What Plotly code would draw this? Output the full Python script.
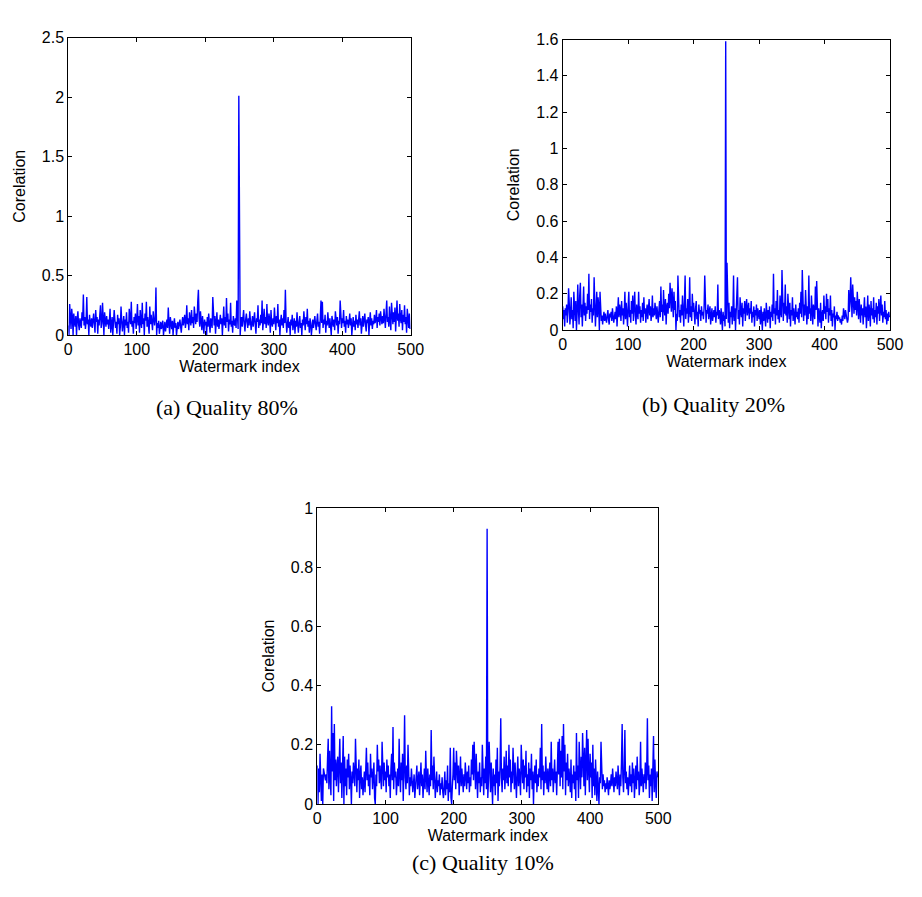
import plotly.graph_objects as go

# ---------------- data ----------------
corr_q80 = [
    0.08, 0.00, 0.26, 0.12, 0.05, 0.22, 0.15, 0.00, 0.18, 0.11, 0.07, 0.16, 0.00, 0.13, 0.20, 0.09, 0.04, 0.14, 0.10, 0.06,
    0.19, 0.12, 0.34, 0.08, 0.15, 0.05, 0.11, 0.32, 0.09, 0.13, 0.00, 0.17, 0.10, 0.07, 0.14, 0.06, 0.12, 0.18, 0.09, 0.02,
    0.21, 0.11, 0.15, 0.01, 0.13, 0.08, 0.17, 0.25, 0.06, 0.10, 0.27, 0.14, 0.00, 0.19, 0.11, 0.07, 0.16, 0.09, 0.13, 0.05,
    0.12, 0.22, 0.02, 0.10, 0.15, 0.00, 0.08, 0.21, 0.13, 0.06, 0.11, 0.01, 0.17, 0.09, 0.14, 0.00, 0.07, 0.24, 0.12, 0.03,
    0.10, 0.16, 0.00, 0.13, 0.08, 0.19, 0.06, 0.11, 0.02, 0.22, 0.14, 0.09, 0.28, 0.07, 0.12, 0.01, 0.15, 0.10, 0.18, 0.05,
    0.13, 0.26, 0.08, 0.16, 0.02, 0.21, 0.11, 0.06, 0.27, 0.09, 0.14, 0.00, 0.18, 0.12, 0.28, 0.07, 0.15, 0.10, 0.01, 0.24,
    0.09, 0.17, 0.12, 0.04, 0.20, 0.11, 0.08, 0.14, 0.40, 0.00, 0.10, 0.06, 0.12, 0.01, 0.09, 0.11, 0.05, 0.08, 0.12, 0.00,
    0.07, 0.11, 0.03, 0.09, 0.13, 0.06, 0.23, 0.10, 0.01, 0.15, 0.08, 0.05, 0.12, 0.00, 0.09, 0.14, 0.06, 0.10, 0.00, 0.08,
    0.11, 0.05, 0.09, 0.13, 0.07, 0.02, 0.10, 0.15, 0.08, 0.12, 0.17, 0.06, 0.11, 0.25, 0.09, 0.14, 0.04, 0.19, 0.12, 0.08,
    0.21, 0.10, 0.15, 0.06, 0.24, 0.13, 0.09, 0.18, 0.11, 0.28, 0.38, 0.14, 0.07, 0.20, 0.12, 0.04, 0.16, 0.09, 0.01, 0.13,
    0.08, 0.11, 0.00, 0.15, 0.07, 0.18, 0.10, 0.02, 0.14, 0.09, 0.06, 0.32, 0.12, 0.08, 0.16, 0.01, 0.11, 0.19, 0.07, 0.13,
    0.05, 0.10, 0.17, 0.09, 0.14, 0.00, 0.12, 0.24, 0.08, 0.15, 0.06, 0.31, 0.11, 0.18, 0.03, 0.13, 0.09, 0.27, 0.07, 0.12,
    0.02, 0.16, 0.10, 0.08, 0.14, 0.06, 0.29, 0.11, 0.05, 2.01, 0.02, 0.00, 0.10, 0.15, 0.07, 0.12, 0.21, 0.09, 0.03, 0.13,
    0.18, 0.11, 0.06, 0.14, 0.08, 0.20, 0.13, 0.04, 0.10, 0.16, 0.07, 0.12, 0.19, 0.09, 0.01, 0.14, 0.11, 0.25, 0.06, 0.13,
    0.08, 0.17, 0.10, 0.29, 0.04, 0.12, 0.22, 0.09, 0.15, 0.06, 0.26, 0.11, 0.08, 0.18, 0.13, 0.02, 0.21, 0.10, 0.07, 0.14,
    0.09, 0.23, 0.12, 0.04, 0.16, 0.10, 0.26, 0.07, 0.13, 0.00, 0.11, 0.17, 0.08, 0.14, 0.06, 0.21, 0.10, 0.38, 0.12, 0.02,
    0.09, 0.15, 0.06, 0.11, 0.00, 0.13, 0.08, 0.17, 0.04, 0.10, 0.14, 0.01, 0.12, 0.07, 0.19, 0.09, 0.02, 0.11, 0.16, 0.06,
    0.10, 0.00, 0.13, 0.08, 0.20, 0.11, 0.04, 0.15, 0.09, 0.22, 0.07, 0.12, 0.02, 0.14, 0.10, 0.00, 0.08, 0.13, 0.06, 0.11,
    0.16, 0.09, 0.04, 0.12, 0.18, 0.07, 0.11, 0.01, 0.14, 0.29, 0.10, 0.28, 0.06, 0.13, 0.09, 0.17, 0.02, 0.12, 0.08, 0.19,
    0.11, 0.06, 0.14, 0.09, 0.00, 0.16, 0.10, 0.07, 0.13, 0.04, 0.20, 0.11, 0.08, 0.15, 0.01, 0.12, 0.09, 0.29, 0.18, 0.06,
    0.14, 0.10, 0.21, 0.07, 0.12, 0.02, 0.16, 0.09, 0.13, 0.06, 0.11, 0.18, 0.08, 0.14, 0.00, 0.10, 0.15, 0.07, 0.12, 0.04,
    0.17, 0.09, 0.13, 0.06, 0.11, 0.20, 0.08, 0.14, 0.01, 0.10, 0.16, 0.07, 0.12, 0.18, 0.09, 0.03, 0.13, 0.10, 0.15, 0.00,
    0.11, 0.19, 0.08, 0.14, 0.05, 0.12, 0.09, 0.17, 0.10, 0.13, 0.21, 0.06, 0.15, 0.11, 0.18, 0.08, 0.20, 0.12, 0.09, 0.16,
    0.10, 0.22, 0.13, 0.06, 0.18, 0.29, 0.11, 0.15, 0.07, 0.24, 0.12, 0.04, 0.27, 0.14, 0.09, 0.19, 0.11, 0.23, 0.03, 0.16,
    0.29, 0.12, 0.18, 0.07, 0.26, 0.14, 0.10, 0.21, 0.04, 0.17, 0.11, 0.25, 0.09, 0.15, 0.02, 0.22, 0.12, 0.06, 0.18, 0.05,
]

corr_q20 = [
    0.13, 0.06, 0.11, 0.02, 0.12, 0.08, 0.14, 0.04, 0.10, 0.23, 0.15, 0.03, 0.09, 0.18, 0.06, 0.11, 0.01, 0.21, 0.13, 0.05,
    0.16, 0.00, 0.09, 0.25, 0.12, 0.03, 0.19, 0.26, 0.07, 0.14, 0.02, 0.11, 0.24, 0.08, 0.15, 0.05, 0.13, 0.09, 0.20, 0.11,
    0.31, 0.06, 0.14, 0.10, 0.17, 0.04, 0.12, 0.08, 0.29, 0.15, 0.02, 0.11, 0.21, 0.07, 0.18, 0.13, 0.00, 0.21, 0.09, 0.05,
    0.08, 0.03, 0.07, 0.10, 0.05, 0.09, 0.06, 0.04, 0.08, 0.11, 0.06, 0.03, 0.09, 0.07, 0.10, 0.05, 0.12, 0.08, 0.04, 0.07,
    0.10, 0.06, 0.13, 0.02, 0.09, 0.18, 0.07, 0.14, 0.11, 0.05, 0.16, 0.08, 0.12, 0.03, 0.10, 0.21, 0.06, 0.15, 0.09, 0.02,
    0.13, 0.21, 0.07, 0.11, 0.04, 0.16, 0.09, 0.19, 0.05, 0.12, 0.21, 0.08, 0.03, 0.14, 0.10, 0.06, 0.21, 0.09, 0.13, 0.04,
    0.11, 0.07, 0.15, 0.05, 0.18, 0.09, 0.12, 0.04, 0.10, 0.14, 0.06, 0.11, 0.17, 0.08, 0.13, 0.05, 0.09, 0.19, 0.07, 0.12,
    0.08, 0.15, 0.10, 0.06, 0.13, 0.09, 0.04, 0.11, 0.16, 0.07, 0.24, 0.10, 0.14, 0.05, 0.22, 0.12, 0.08, 0.17, 0.03, 0.13,
    0.15, 0.09, 0.20, 0.12, 0.26, 0.18, 0.10, 0.23, 0.14, 0.07, 0.21, 0.11, 0.16, 0.00, 0.09, 0.05, 0.30, 0.13, 0.07, 0.11,
    0.04, 0.14, 0.08, 0.19, 0.10, 0.02, 0.16, 0.30, 0.06, 0.12, 0.09, 0.17, 0.04, 0.11, 0.29, 0.07, 0.13, 0.05, 0.20, 0.10,
    0.15, 0.08, 0.03, 0.12, 0.16, 0.06, 0.10, 0.02, 0.14, 0.09, 0.11, 0.05, 0.13, 0.08, 0.10, 0.06, 0.12, 0.30, 0.07, 0.04,
    0.11, 0.09, 0.14, 0.06, 0.10, 0.13, 0.03, 0.08, 0.12, 0.05, 0.09, 0.11, 0.07, 0.13, 0.04, 0.10, 0.08, 0.25, 0.06, 0.11,
    0.09, 0.03, 0.12, 0.07, 0.00, 0.10, 0.05, 0.08, 0.02, 1.59, 0.06, 0.37, 0.12, 0.04, 0.15, 0.01, 0.10, 0.07, 0.13, 0.03,
    0.09, 0.30, 0.05, 0.12, 0.00, 0.08, 0.14, 0.29, 0.06, 0.11, 0.03, 0.18, 0.10, 0.07, 0.15, 0.02, 0.12, 0.09, 0.16, 0.05,
    0.13, 0.17, 0.08, 0.11, 0.15, 0.06, 0.12, 0.09, 0.16, 0.04, 0.10, 0.07, 0.13, 0.02, 0.11, 0.08, 0.14, 0.05, 0.12, 0.09,
    0.06, 0.11, 0.03, 0.13, 0.07, 0.00, 0.10, 0.05, 0.12, 0.08, 0.02, 0.15, 0.09, 0.04, 0.11, 0.06, 0.13, 0.01, 0.10, 0.07,
    0.14, 0.05, 0.31, 0.09, 0.12, 0.03, 0.16, 0.08, 0.22, 0.06, 0.11, 0.04, 0.19, 0.10, 0.07, 0.33, 0.12, 0.05, 0.15, 0.09,
    0.25, 0.08, 0.13, 0.04, 0.20, 0.10, 0.06, 0.15, 0.02, 0.11, 0.08, 0.18, 0.05, 0.12, 0.09, 0.03, 0.14, 0.07, 0.10, 0.06,
    0.12, 0.04, 0.15, 0.09, 0.21, 0.07, 0.33, 0.11, 0.05, 0.14, 0.08, 0.22, 0.10, 0.03, 0.13, 0.06, 0.30, 0.09, 0.12, 0.05,
    0.19, 0.08, 0.03, 0.14, 0.10, 0.06, 0.24, 0.11, 0.27, 0.07, 0.02, 0.12, 0.09, 0.04, 0.15, 0.01, 0.08, 0.11, 0.05, 0.19,
    0.09, 0.13, 0.06, 0.20, 0.10, 0.17, 0.04, 0.12, 0.08, 0.19, 0.05, 0.11, 0.02, 0.09, 0.07, 0.13, 0.00, 0.08, 0.06, 0.10,
    0.05, 0.08, 0.06, 0.07, 0.04, 0.06, 0.03, 0.08, 0.05, 0.12, 0.09, 0.06, 0.11, 0.08, 0.05, 0.04, 0.06, 0.22, 0.10, 0.15,
    0.29, 0.12, 0.07, 0.25, 0.14, 0.09, 0.18, 0.11, 0.16, 0.08, 0.21, 0.13, 0.06, 0.17, 0.10, 0.04, 0.14, 0.08, 0.12, 0.03,
    0.11, 0.18, 0.07, 0.13, 0.01, 0.09, 0.19, 0.05, 0.14, 0.10, 0.02, 0.16, 0.08, 0.12, 0.06, 0.18, 0.04, 0.11, 0.07, 0.15,
    0.03, 0.13, 0.09, 0.17, 0.05, 0.12, 0.19, 0.08, 0.14, 0.04, 0.10, 0.07, 0.16, 0.06, 0.11, 0.03, 0.09, 0.05, 0.10, 0.07,
]

corr_q10 = [
    0.13, 0.00, 0.12, 0.04, 0.17, 0.07, 0.01, 0.10, 0.00, 0.12, 0.11, 0.09, 0.08, 0.10, 0.07, 0.15, 0.22, 0.05, 0.18, 0.09,
    0.03, 0.33, 0.11, 0.24, 0.01, 0.27, 0.08, 0.15, 0.06, 0.13, 0.16, 0.04, 0.10, 0.22, 0.07, 0.14, 0.02, 0.11, 0.23, 0.00,
    0.16, 0.06, 0.12, 0.03, 0.15, 0.09, 0.17, 0.05, 0.13, 0.08, 0.00, 0.11, 0.07, 0.14, 0.10, 0.06, 0.22, 0.09, 0.04, 0.12,
    0.08, 0.15, 0.02, 0.10, 0.13, 0.05, 0.09, 0.03, 0.07, 0.11, 0.04, 0.12, 0.19, 0.08, 0.14, 0.06, 0.10, 0.03, 0.17, 0.09,
    0.12, 0.05, 0.08, 0.14, 0.02, 0.00, 0.10, 0.06, 0.20, 0.11, 0.15, 0.07, 0.13, 0.09, 0.05, 0.21, 0.12, 0.06, 0.14, 0.08,
    0.11, 0.04, 0.15, 0.09, 0.13, 0.06, 0.10, 0.02, 0.12, 0.17, 0.08, 0.26, 0.05, 0.14, 0.09, 0.11, 0.03, 0.07, 0.12, 0.06,
    0.22, 0.10, 0.04, 0.14, 0.08, 0.17, 0.01, 0.12, 0.30, 0.09, 0.05, 0.13, 0.07, 0.20, 0.11, 0.03, 0.09, 0.06, 0.12, 0.08,
    0.04, 0.07, 0.10, 0.02, 0.06, 0.09, 0.13, 0.05, 0.08, 0.11, 0.03, 0.07, 0.14, 0.06, 0.10, 0.02, 0.08, 0.12, 0.05, 0.18,
    0.09, 0.04, 0.12, 0.07, 0.03, 0.10, 0.06, 0.25, 0.08, 0.13, 0.05, 0.16, 0.09, 0.02, 0.07, 0.11, 0.04, 0.08, 0.06, 0.10,
    0.03, 0.07, 0.05, 0.09, 0.04, 0.02, 0.06, 0.11, 0.03, 0.08, 0.05, 0.13, 0.01, 0.07, 0.04, 0.19, 0.02, 0.00, 0.06, 0.10,
    0.19, 0.08, 0.14, 0.05, 0.18, 0.11, 0.07, 0.13, 0.03, 0.09, 0.16, 0.06, 0.12, 0.08, 0.04, 0.10, 0.06, 0.14, 0.09, 0.05,
    0.11, 0.07, 0.13, 0.04, 0.09, 0.06, 0.15, 0.10, 0.20, 0.08, 0.21, 0.12, 0.05, 0.17, 0.09, 0.02, 0.11, 0.07, 0.14, 0.04,
    0.09, 0.06, 0.20, 0.10, 0.03, 0.12, 0.07, 0.16, 0.05, 0.93, 0.02, 0.08, 0.21, 0.11, 0.04, 0.14, 0.08, 0.00, 0.12, 0.06,
    0.10, 0.03, 0.15, 0.07, 0.19, 0.01, 0.11, 0.06, 0.13, 0.29, 0.09, 0.04, 0.12, 0.08, 0.16, 0.05, 0.10, 0.18, 0.07, 0.13,
    0.06, 0.20, 0.09, 0.15, 0.04, 0.11, 0.07, 0.19, 0.12, 0.05, 0.14, 0.08, 0.02, 0.10, 0.16, 0.06, 0.12, 0.09, 0.03, 0.20,
    0.11, 0.07, 0.15, 0.05, 0.13, 0.09, 0.18, 0.04, 0.10, 0.06, 0.14, 0.02, 0.12, 0.08, 0.17, 0.05, 0.11, 0.00, 0.09, 0.13,
    0.07, 0.15, 0.04, 0.10, 0.06, 0.12, 0.09, 0.19, 0.05, 0.27, 0.08, 0.13, 0.03, 0.11, 0.07, 0.16, 0.09, 0.05, 0.12, 0.04,
    0.10, 0.14, 0.06, 0.21, 0.08, 0.12, 0.04, 0.09, 0.15, 0.07, 0.11, 0.03, 0.13, 0.21, 0.10, 0.22, 0.06, 0.18, 0.09, 0.23,
    0.05, 0.27, 0.11, 0.20, 0.03, 0.14, 0.08, 0.17, 0.06, 0.12, 0.09, 0.04, 0.15, 0.02, 0.10, 0.07, 0.13, 0.05, 0.11, 0.01,
    0.24, 0.08, 0.13, 0.02, 0.21, 0.10, 0.05, 0.16, 0.09, 0.24, 0.12, 0.06, 0.19, 0.03, 0.14, 0.25, 0.08, 0.22, 0.11, 0.04,
    0.17, 0.09, 0.14, 0.02, 0.20, 0.06, 0.12, 0.03, 0.15, 0.08, 0.01, 0.11, 0.05, 0.00, 0.09, 0.07, 0.21, 0.12, 0.05, 0.10,
    0.06, 0.08, 0.04, 0.07, 0.05, 0.09, 0.06, 0.03, 0.08, 0.05, 0.07, 0.10, 0.06, 0.12, 0.08, 0.04, 0.09, 0.06, 0.11, 0.07,
    0.05, 0.13, 0.08, 0.03, 0.10, 0.06, 0.14, 0.27, 0.09, 0.04, 0.12, 0.25, 0.07, 0.11, 0.05, 0.09, 0.03, 0.08, 0.13, 0.06,
    0.10, 0.04, 0.14, 0.07, 0.12, 0.02, 0.09, 0.13, 0.05, 0.16, 0.08, 0.11, 0.03, 0.07, 0.21, 0.06, 0.12, 0.09, 0.04, 0.10,
    0.07, 0.14, 0.05, 0.11, 0.29, 0.08, 0.13, 0.02, 0.10, 0.06, 0.12, 0.01, 0.09, 0.23, 0.04, 0.15, 0.07, 0.02, 0.11, 0.09,
]

captions = ["(a) Quality 80%", "(b) Quality 20%", "(c) Quality 10%"]
x_title = "Watermark index"
y_title = "Corelation"
y_ranges = [[0, 2.5], [0, 1.6], [0, 1.0]]
y_dticks = [0.5, 0.2, 0.2]
x_range = [0, 500]
x_dtick = 100

# ---------------- layout geometry (pixels) ----------------
W, H = 922, 897
# (left, right, top, bottom) of each plot box in pixels
boxes = [(68.3, 410.7, 37.5, 335.0),
         (562.7, 890.0, 39.5, 330.0),
         (317.3, 658.3, 508.0, 804.0)]
caption_pos = [(227, 407), (713, 405), (483, 862)]

series = [corr_q80, corr_q20, corr_q10]

fig = go.Figure()
tick_font = dict(family="Liberation Sans, Arial, sans-serif", size=16, color="black")

for i, (vals, box) in enumerate(zip(series, boxes)):
    n = i + 1
    xa = "x" if n == 1 else f"x{n}"
    ya = "y" if n == 1 else f"y{n}"
    fig.add_trace(go.Scatter(
        x=list(range(len(vals))), y=vals, mode="lines",
        line=dict(color="#0000ff", width=1.4),
        xaxis=xa, yaxis=ya, showlegend=False, hoverinfo="skip"))
    l, r, t, b = box
    common = dict(showline=True, linecolor="black", linewidth=1, mirror="ticks",
                  ticks="inside", ticklen=4, tickcolor="black", tickwidth=1,
                  showgrid=False, zeroline=False, tickfont=tick_font, automargin=False)
    fig.layout[f"xaxis{'' if n == 1 else n}"] = dict(
        domain=[l / W, r / W], anchor=ya, range=x_range, dtick=x_dtick, tick0=0,
        title=dict(text=x_title, font=tick_font, standoff=3), **common)
    fig.layout[f"yaxis{'' if n == 1 else n}"] = dict(
        domain=[1 - b / H, 1 - t / H], anchor=xa, range=y_ranges[i], dtick=y_dticks[i], tick0=0,
        title=dict(text=y_title, font=tick_font, standoff=12), **common)
    cx, cy = caption_pos[i]
    fig.add_annotation(text=captions[i], x=cx / W, y=1 - cy / H, xref="paper", yref="paper",
                       showarrow=False, xanchor="center", yanchor="middle",
                       font=dict(family="Liberation Serif, Times New Roman, serif", size=22, color="black"))

fig.update_layout(width=W, height=H, margin=dict(l=0, r=0, t=0, b=0),
                  paper_bgcolor="white", plot_bgcolor="white")

fig.write_html("out.html")
